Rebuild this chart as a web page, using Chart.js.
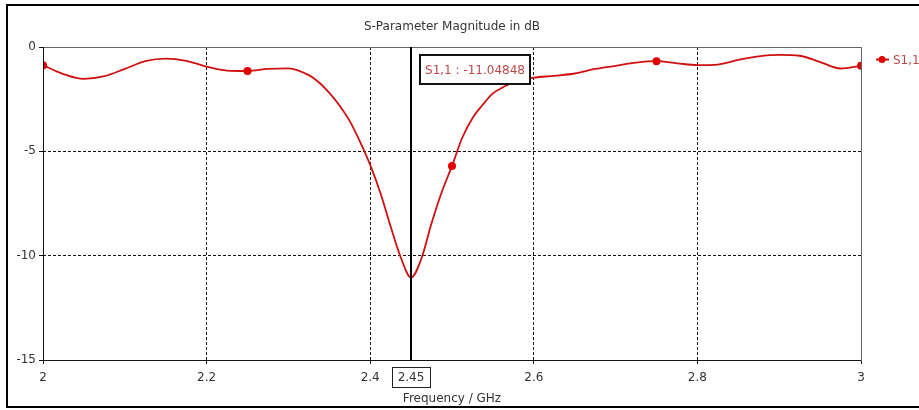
<!DOCTYPE html>
<html>
<head>
<meta charset="utf-8">
<script src="https://cdn.jsdelivr.net/npm/chart.js@4"></script>
<style>
    html, body { margin: 0; padding: 0; background: #fff; }
    #wrap { width: 919px; height: 410px; position: relative; }
</style>
</head>
<body>
<div id="wrap"><canvas id="chart" width="919" height="410"></canvas></div>
<script>
// Данные кривой S1,1 (частота в ГГц, модуль в дБ)
const freqs = [
    2.0, 2.025, 2.05, 2.075, 2.1, 2.125, 2.15, 2.175, 2.2, 2.225,
    2.25, 2.275, 2.3, 2.325, 2.3375, 2.35, 2.3625, 2.375, 2.3875, 2.4,
    2.4125, 2.425, 2.4375, 2.45, 2.4625, 2.475, 2.4875, 2.5, 2.5125, 2.525,
    2.5375, 2.55, 2.5625, 2.575, 2.5875, 2.6, 2.625, 2.65, 2.675, 2.7,
    2.725, 2.75, 2.775, 2.8, 2.825, 2.85, 2.875, 2.9, 2.925, 2.95,
    2.975, 3.0
];
const s11 = [
    -0.87, -1.30, -1.53, -1.40, -1.05, -0.68, -0.56, -0.66, -0.94, -1.13,
    -1.15, -1.05, -1.02, -1.35, -1.7, -2.2, -2.8, -3.55, -4.53, -5.65,
    -7.0, -8.6, -10.1, -11.05, -10.15, -8.45, -6.95, -5.7, -4.35, -3.41,
    -2.77, -2.22, -1.93, -1.68, -1.55, -1.47, -1.38, -1.27, -1.05, -0.9,
    -0.75, -0.68, -0.78, -0.87, -0.84, -0.62, -0.45, -0.38, -0.42, -0.72,
    -1.03, -0.9
];
// Частоты с маркерами на кривой
const markerFreqs = [2.0, 2.25, 2.5, 2.75, 3.0];
const xTicks = [2, 2.2, 2.4, 2.6, 2.8, 3];
const yTicks = [0, -5, -10, -15];
const cursorFreq = 2.45;
const cursorLabel = '2.45';
const cursorValue = 'S1,1 : -11.04848';
const seriesName = 'S1,1';
const chartTitle = 'S-Parameter Magnitude in dB';

const FONT = 'DejaVu Sans';
const lineRed = '#cf1010';
const textRed = '#b84848';

// Рамка, курсор, подписи и легенда
const overlay = {
    id: 'overlay',
    afterDatasetsDraw(chart) {
        const { ctx, chartArea: a, scales } = chart;
        const cx = Math.round(scales.x.getPixelForValue(cursorFreq));
        ctx.save();

        // заголовок
        ctx.font = '12px "' + FONT + '"';
        ctx.textBaseline = 'middle';
        ctx.textAlign = 'center';
        ctx.fillStyle = '#333';
        ctx.fillText(chartTitle, (a.left + a.right) / 2, 27);

        // рамка области графика
        ctx.strokeStyle = '#666';
        ctx.lineWidth = 1;
        ctx.strokeRect(a.left + 0.5, a.top + 0.5, a.right - a.left, a.bottom - a.top);
        ctx.strokeStyle = '#111';
        ctx.beginPath();
        ctx.moveTo(a.left + 0.5, a.top);
        ctx.lineTo(a.left + 0.5, a.bottom + 0.5);
        ctx.lineTo(a.right, a.bottom + 0.5);
        ctx.stroke();

        // вертикальный курсор
        ctx.strokeStyle = '#000';
        ctx.lineWidth = 2;
        ctx.beginPath();
        ctx.moveTo(cx, a.top);
        ctx.lineTo(cx, a.bottom);
        ctx.stroke();

        // значение курсора
        const bx = cx + 9, by = a.top + 8;
        const bw = 110, bh = 29;
        ctx.fillStyle = '#fff';
        ctx.fillRect(bx, by, bw, bh);
        ctx.lineWidth = 2;
        ctx.strokeStyle = '#111';
        ctx.strokeRect(bx, by, bw, bh);
        ctx.fillStyle = textRed;
        ctx.fillText(cursorValue, bx + bw / 2, by + bh / 2 + 1);

        // подпись частоты курсора под осью
        ctx.fillStyle = '#fff';
        ctx.fillRect(cx - 19, a.bottom + 7, 38, 20);
        ctx.lineWidth = 1;
        ctx.strokeStyle = '#222';
        ctx.strokeRect(cx - 18.5, a.bottom + 7.5, 38, 20);
        ctx.fillStyle = '#333';
        ctx.fillText(cursorLabel, cx, a.bottom + 18);

        // легенда
        const ly = scales.y.getPixelForValue(-0.6);
        const lx = a.right + 15;
        ctx.strokeStyle = lineRed;
        ctx.lineWidth = 2;
        ctx.beginPath();
        ctx.moveTo(lx, ly);
        ctx.lineTo(lx + 13, ly);
        ctx.stroke();
        ctx.fillStyle = '#e00000';
        ctx.beginPath();
        ctx.arc(lx + 6, ly, 3.5, 0, Math.PI * 2);
        ctx.fill();
        ctx.fillStyle = textRed;
        ctx.textAlign = 'left';
        ctx.fillText(seriesName, lx + 17, ly + 1);

        // внешняя рамка
        ctx.strokeStyle = '#000';
        ctx.lineWidth = 2;
        ctx.strokeRect(7, 5, 930, 402);
        ctx.restore();
    }
};

const tickFont = { family: FONT, size: 12 };
const fmt = v => String(Math.round(v * 100) / 100);

const ctx = document.getElementById('chart').getContext('2d');
new Chart(ctx, {
    type: 'line',
    data: {
        datasets: [{
            label: seriesName,
            data: freqs.map((f, i) => ({ x: f, y: s11[i] })),
            borderColor: lineRed,
            borderWidth: 1.8,
            backgroundColor: '#e00000',
            pointBackgroundColor: '#e00000',
            pointBorderWidth: 0,
            pointRadius: c => markerFreqs.includes(freqs[c.dataIndex]) ? 4 : 0,
            cubicInterpolationMode: 'monotone',
            fill: false
        }]
    },
    options: {
        responsive: false,
        animation: false,
        layout: { padding: { top: 47, left: 0, right: 58, bottom: 0 } },
        plugins: {
            legend: { display: false },
            tooltip: { enabled: false },
            title: { display: false }
        },
        scales: {
            x: {
                type: 'linear',
                min: 2,
                max: 3,
                afterBuildTicks: s => { s.ticks = xTicks.map(v => ({ value: v })); },
                afterFit: s => { s.height = 50; },
                ticks: {
                    color: '#333',
                    font: tickFont,
                    padding: 7,
                    maxRotation: 0,
                    callback: fmt
                },
                grid: { color: '#111', tickColor: '#111', tickLength: 4, lineWidth: 1 },
                border: { display: false, dash: [3, 2] },
                title: {
                    display: true,
                    text: 'Frequency / GHz',
                    color: '#333',
                    font: tickFont,
                    padding: { top: 0, bottom: 4 }
                }
            },
            y: {
                min: -15,
                max: 0,
                afterBuildTicks: s => { s.ticks = yTicks.map(v => ({ value: v })); },
                afterFit: s => { s.width = 43; },
                ticks: {
                    color: '#333',
                    font: tickFont,
                    padding: 3,
                    callback: fmt
                },
                grid: { color: '#111', tickColor: '#111', tickLength: 4, lineWidth: 1 },
                border: { display: false, dash: [3, 2] }
            }
        }
    },
    plugins: [overlay]
});
</script>
</body>
</html>
